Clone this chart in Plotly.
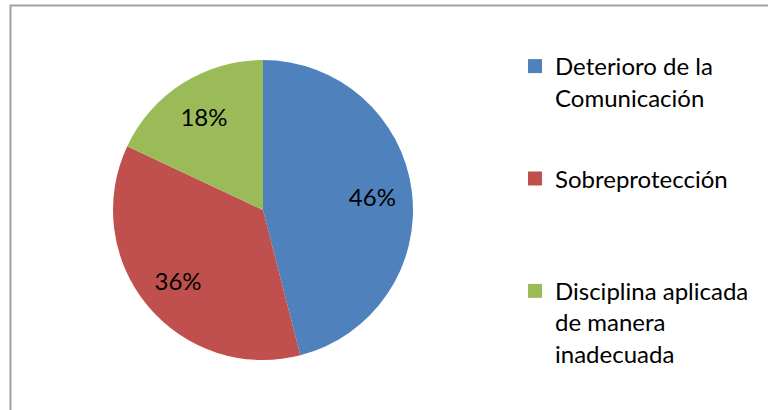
import plotly.graph_objects as go

categories = ["Deterioro de la<br>Comunicación", "Sobreprotección<br> ", "Disciplina aplicada<br>de manera<br>inadecuada"]
values = [46, 36, 18]
colors = ["#4F81BD", "#C0504D", "#9BBB59"]

W, H = 768, 410
pie_domain = dict(x=[113 / W, 413 / W], y=[50 / H, 350 / H])

fig = go.Figure()
# filled pie
fig.add_trace(go.Pie(
    labels=categories, values=values, sort=False, direction="clockwise", rotation=0,
    marker=dict(colors=colors, line=dict(width=0)),
    textinfo="none", hoverinfo="label+percent", showlegend=False,
    domain=pie_domain,
))
# transparent ring used only to place the percentage labels
fig.add_trace(go.Pie(
    labels=categories, values=values, sort=False, direction="clockwise", rotation=0,
    hole=0.47,
    marker=dict(colors=["rgba(0,0,0,0)"] * len(values), line=dict(width=0)),
    texttemplate="%{percent:.0%}", textposition="inside",
    insidetextorientation="horizontal",
    textfont=dict(family="Lato", size=24, color="#000000"),
    hoverinfo="skip", showlegend=False,
    domain=pie_domain,
))
# legend entries
for i, (lab, col) in enumerate(zip(categories, colors)):
    fig.add_trace(go.Scatter(
        x=[None], y=[None], mode="markers", name=lab, legendgroup=str(i),
        marker=dict(symbol="square", size=14, color=col), hoverinfo="skip",
    ))

fig.update_layout(
    width=W, height=H,
    margin=dict(l=0, r=0, t=0, b=0),
    paper_bgcolor="white", plot_bgcolor="white",
    xaxis=dict(visible=False), yaxis=dict(visible=False),
    showlegend=True,
    legend=dict(
        x=515 / W, y=1 - 44 / H, xanchor="left", yanchor="top",
        font=dict(family="Lato", size=24, color="#000000"),
        valign="top", tracegroupgap=47, itemclick=False,
    ),
    shapes=[dict(type="rect", xref="paper", yref="paper",
                 x0=10.5 / W, x1=1.2, y0=-0.2, y1=1 - 5.5 / H,
                 line=dict(color="#A0A0A0", width=2), fillcolor="rgba(0,0,0,0)")],
)

fig.write_html("out.html", config={"displayModeBar": False},
               post_script="document.body.style.margin='0';")
